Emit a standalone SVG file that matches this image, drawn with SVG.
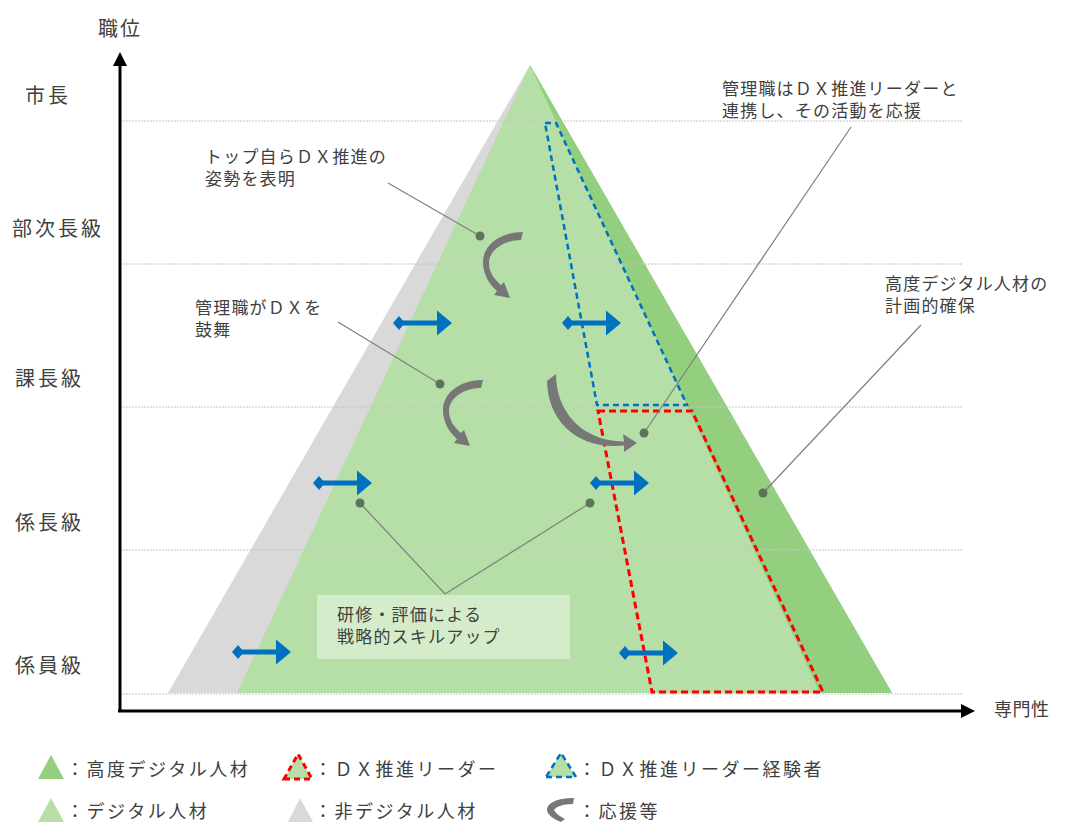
<svg xmlns="http://www.w3.org/2000/svg" width="1068" height="825" viewBox="0 0 1068 825">
<style>
text{font-family:"Noto Sans CJK JP","Noto Sans",sans-serif;fill:#404040;}
.lbl{font-size:17px;letter-spacing:1.2px;}
.ax{font-size:20px;letter-spacing:3px;}
.lg{font-size:18px;letter-spacing:2.5px;}
.grid{stroke:#c4c4c4;stroke-width:1;stroke-dasharray:2 1;fill:none;}
.lead{stroke:#7f7f7f;stroke-width:1.2;fill:none;}
.dot{fill:#5f7358;}
.blue{fill:none;stroke:#0070c0;stroke-width:2.5;stroke-dasharray:6 4;}
.red{fill:none;stroke:#ff0000;stroke-width:3;stroke-dasharray:7 4;}
.curv{fill:#777777;}
.dg{fill:#93cf7f;}
.lgr{fill:#b5dfa7;}
.gy{fill:#d9d9d9;}
</style>
<defs>
<g id="dbl"><path d="M0,0 L6,-7 L12,0 L6,7 Z" fill="#0070c0"/><rect x="10" y="-2.5" width="35" height="5" fill="#0070c0"/><path d="M44,-12.5 L59,0 L44,12.5 Z" fill="#0070c0"/></g>
<path id="curv" d="M40,0 L38,8 C21,8 6,18 6,31 C6,40 11,47 18,53 L21,50 L27,66 L11,63 L14,59 C6,52 0,42 0,30 C0,13 17,0 40,0 Z"/>
</defs>
<rect width="1068" height="825" fill="#ffffff"/>
<g id="triangles">
<polygon id="non-digital" class="gy" points="530,65 168,693 892,693"/>
<polygon id="digital" class="lgr" points="530,65 237,693 892,693"/>
<polygon id="advanced" class="dg" points="530,65 892,693 820,693"/>
</g>
<g id="grid">
<line class="grid" x1="120" y1="121" x2="962" y2="121"/>
<line class="grid" x1="120" y1="264" x2="962" y2="264"/>
<line class="grid" x1="120" y1="407" x2="962" y2="407"/>
<line class="grid" x1="120" y1="550" x2="962" y2="550"/>
<line class="grid" x1="120" y1="694" x2="962" y2="694"/>
</g>
<g id="dx-leader-exp"><polygon class="blue" points="545,123 556,123 687,405 597,405"/></g>
<g id="dx-leader"><polygon class="red" points="598,411 692,411 823,692 652,692"/></g>
<g id="axes">
<line x1="120" y1="712" x2="120" y2="62" stroke="#000" stroke-width="3"/>
<path d="M120,52 L127,66 L113,66 Z" fill="#000"/>
<line x1="118" y1="711" x2="964" y2="711" stroke="#000" stroke-width="3"/>
<path d="M975,711 L961,704 L961,718 Z" fill="#000"/>
<text x="98" y="36" class="ax" style="letter-spacing:2px">職位</text>
<text x="994" y="716" style="font-size:18px;letter-spacing:0.5px">専門性</text>
<text x="25" y="103" class="ax">市長</text>
<text x="12" y="236" class="ax">部次長級</text>
<text x="15" y="386" class="ax">課長級</text>
<text x="15" y="530" class="ax">係長級</text>
<text x="15" y="673" class="ax">係員級</text>
</g>
<g id="mobility-arrows">
<use href="#dbl" x="393" y="323"/>
<use href="#dbl" x="562" y="323"/>
<use href="#dbl" x="313" y="483"/>
<use href="#dbl" x="590" y="483"/>
<use href="#dbl" x="232" y="652"/>
<use href="#dbl" x="619" y="653"/>
</g>
<g id="support-arrows" class="curv">
<use href="#curv" x="483" y="232"/>
<use href="#curv" x="443" y="380"/>
<path d="M547,381 L556,374 C556,410 580,441 624,441.5 L623,434 L637,443 L624,452 L624,445.5 C578,450 548,422 547,381 Z"/>
</g>
<g id="connectors">
<line class="lead" x1="388" y1="183" x2="480" y2="236"/>
<line class="lead" x1="338" y1="322" x2="440" y2="384"/>
<line class="lead" x1="851" y1="127" x2="644" y2="433"/>
<line class="lead" x1="921" y1="325" x2="763" y2="493"/>
<polyline class="lead" points="360,503 445,594 590,503"/>
<circle class="dot" cx="480" cy="236" r="4.5"/>
<circle class="dot" cx="440" cy="384" r="4.5"/>
<circle class="dot" cx="644" cy="433" r="4.5"/>
<circle class="dot" cx="763" cy="493" r="4.5"/>
<circle class="dot" cx="360" cy="503" r="4.5"/>
<circle class="dot" cx="590" cy="503" r="4.5"/>
</g>
<g id="note-top"><text class="lbl" x="205" y="163">トップ自らＤＸ推進の</text><text class="lbl" x="205" y="185">姿勢を表明</text></g>
<g id="note-manager"><text class="lbl" x="195" y="314">管理職がＤＸを</text><text class="lbl" x="195" y="336">鼓舞</text></g>
<g id="note-leader"><text class="lbl" x="722" y="95">管理職はＤＸ推進リーダーと</text><text class="lbl" x="722" y="117">連携し、その活動を応援</text></g>
<g id="note-advanced"><text class="lbl" x="885" y="290">高度デジタル人材の</text><text class="lbl" x="885" y="312">計画的確保</text></g>
<g id="note-training"><rect x="317" y="595" width="253" height="64" fill="#d4ecca"/><text class="lbl" x="337" y="621">研修・評価による</text><text class="lbl" x="337" y="643">戦略的スキルアップ</text></g>
<g id="legend">
<polygon class="dg" points="38,779 64,779 51,755"/>
<text class="lg" x="66" y="776">：高度デジタル人材</text>
<polygon class="lgr" points="284,779 312,779 298,754"/>
<polygon class="red" points="284,779 312,779 298,754" style="stroke-dasharray:6 4"/>
<text class="lg" x="314" y="776">：ＤＸ推進リーダー</text>
<polygon class="lgr" points="546,777 576,777 561,753"/>
<polygon class="blue" points="546,777 576,777 561,753" style="stroke-dasharray:6 4"/>
<text class="lg" x="578" y="776">：ＤＸ推進リーダー経験者</text>
<polygon class="lgr" points="38,822 64,822 51,798"/>
<text class="lg" x="66" y="818">：デジタル人材</text>
<polygon class="gy" points="288,822 313,822 300,798"/>
<text class="lg" x="314" y="818">：非デジタル人材</text>
<path class="curv" d="M574,798 L573,804 C562,804 556,807 554,810 C556,814 561,817 565,819 L561,822 C553,819 547,814 547,810 C547,803 557,798 574,798 Z"/>
<text class="lg" x="578" y="818">：応援等</text>
</g>
</svg>
